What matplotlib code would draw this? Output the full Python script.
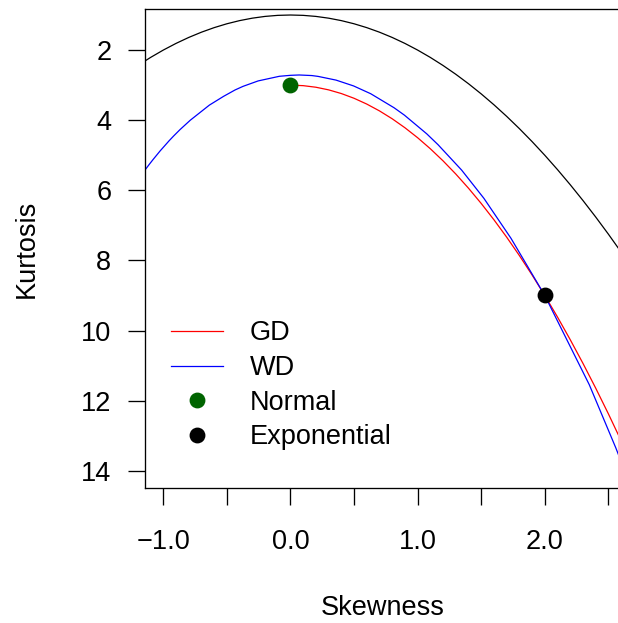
import numpy as np
import matplotlib
matplotlib.use("Agg")
import matplotlib.pyplot as plt
from matplotlib.lines import Line2D

plt.rcParams["font.family"] = ["Liberation Sans", "DejaVu Sans"]

# lower bound (black)
bound_skew = [-1.2, -1.1, -1.0, -0.9, -0.8, -0.7, -0.6, -0.5, -0.4, -0.3, -0.2, -0.1,
              0.0, 0.1, 0.2, 0.3, 0.4, 0.5, 0.6, 0.7, 0.8, 0.9, 1.0, 1.1, 1.2, 1.3,
              1.4, 1.5, 1.6, 1.7, 1.8, 1.9, 2.0, 2.1, 2.2, 2.3, 2.4, 2.5, 2.6, 2.7]
bound_kurt = [2.44, 2.21, 2.0, 1.81, 1.64, 1.49, 1.36, 1.25, 1.16, 1.09, 1.04, 1.01,
              1.0, 1.01, 1.04, 1.09, 1.16, 1.25, 1.36, 1.49, 1.64, 1.81, 2.0, 2.21,
              2.44, 2.69, 2.96, 3.25, 3.56, 3.89, 4.24, 4.61, 5.0, 5.41, 5.84, 6.29,
              6.76, 7.25, 7.76, 8.29]

# GD curve (red)
gd_skew = [0.0, 0.1, 0.2, 0.3, 0.4, 0.5, 0.6, 0.7, 0.8, 0.9, 1.0, 1.1, 1.2, 1.3,
           1.4, 1.5, 1.6, 1.7, 1.8, 1.9, 2.0, 2.1, 2.2, 2.3, 2.4, 2.5, 2.6, 2.7]
gd_kurt = [3.0, 3.015, 3.06, 3.135, 3.24, 3.375, 3.54, 3.735, 3.96, 4.215, 4.5,
           4.815, 5.16, 5.535, 5.94, 6.375, 6.84, 7.335, 7.86, 8.415, 9.0, 9.615,
           10.26, 10.935, 11.64, 12.375, 13.14, 13.935]

# WD curve (blue)
wd_skew = [-1.1395, -1.110, -1.081, -1.0248, -0.953, -0.9184, -0.868, -0.7875,
           -0.6376, -0.526, -0.4357, -0.373, -0.2541, -0.0872, 0.0, 0.0687, 0.168,
           0.2167, 0.3586, 0.4963, 0.6311, 0.815, 0.8961, 1.072, 1.1604, 1.346,
           1.521, 1.734, 2.0, 2.350, 2.559, 2.815]
wd_kurt = [5.400, 5.259, 5.125, 4.876, 4.582, 4.450, 4.267, 4.000,
           3.570, 3.320, 3.138, 3.035, 2.880, 2.748, 2.7205, 2.7106, 2.727,
           2.7506, 2.8568, 3.0228, 3.2451, 3.646, 3.8559, 4.390, 4.6985, 5.423,
           6.228, 7.368, 9.0, 11.546, 13.351, 15.741]

# reference distributions
normal_pt = (0.0, 3.0)
expo_pt = (2.0, 9.0)

x_ticks = [-1.0, -0.5, 0.0, 0.5, 1.0, 1.5, 2.0, 2.5]
x_labels = ["\u22121.0", "", "0.0", "", "1.0", "", "2.0", ""]
y_ticks = [2, 4, 6, 8, 10, 12, 14]

fs = 19.5
lw = 0.9

fig = plt.figure(figsize=(6.18, 6.23), dpi=100)
ax = fig.add_axes([145.3 / 618, 134.7 / 623, 475.4 / 618, 479.6 / 623])

ax.plot(bound_skew, bound_kurt, color="black", lw=lw)
ax.plot(gd_skew, gd_kurt, color="red", lw=lw)
ax.plot(wd_skew, wd_kurt, color="blue", lw=lw)
ax.plot(*normal_pt, "o", color="darkgreen", ms=10.4, zorder=5)
ax.plot(*expo_pt, "o", color="black", ms=10.4, zorder=5)

ax.set_xlim(-1.1415, 2.597)
ax.set_ylim(14.50, 0.82)

ax.set_xticks(x_ticks)
ax.set_xticklabels(x_labels)
ax.set_yticks(y_ticks)
ax.tick_params(axis="both", direction="out", length=12.5, width=0.95,
               labelsize=fs)
ax.tick_params(axis="x", pad=17)
ax.tick_params(axis="y", pad=12)
for s in ax.spines.values():
    s.set_linewidth(0.95)

fig.text(383 / 618, 1 - 608 / 623, "Skewness", fontsize=fs,
         ha="center", va="center")
fig.text(27 / 618, 1 - 248.5 / 623, "Kurtosis", fontsize=fs,
         ha="center", va="center", rotation=90)

handles = [
    Line2D([], [], color="red", lw=lw),
    Line2D([], [], color="blue", lw=lw),
    Line2D([], [], color="darkgreen", marker="o", ls="none", ms=10.4),
    Line2D([], [], color="black", marker="o", ls="none", ms=10.4),
]
ax.legend(handles, ["GD", "WD", "Normal", "Exponential"], loc="upper left",
          bbox_to_anchor=(0.0534, 0.3499), frameon=False, fontsize=fs,
          handlelength=1.95, handletextpad=0.96, labelspacing=0.317,
          borderpad=0, borderaxespad=0)

fig.savefig("out.png", dpi=100)
